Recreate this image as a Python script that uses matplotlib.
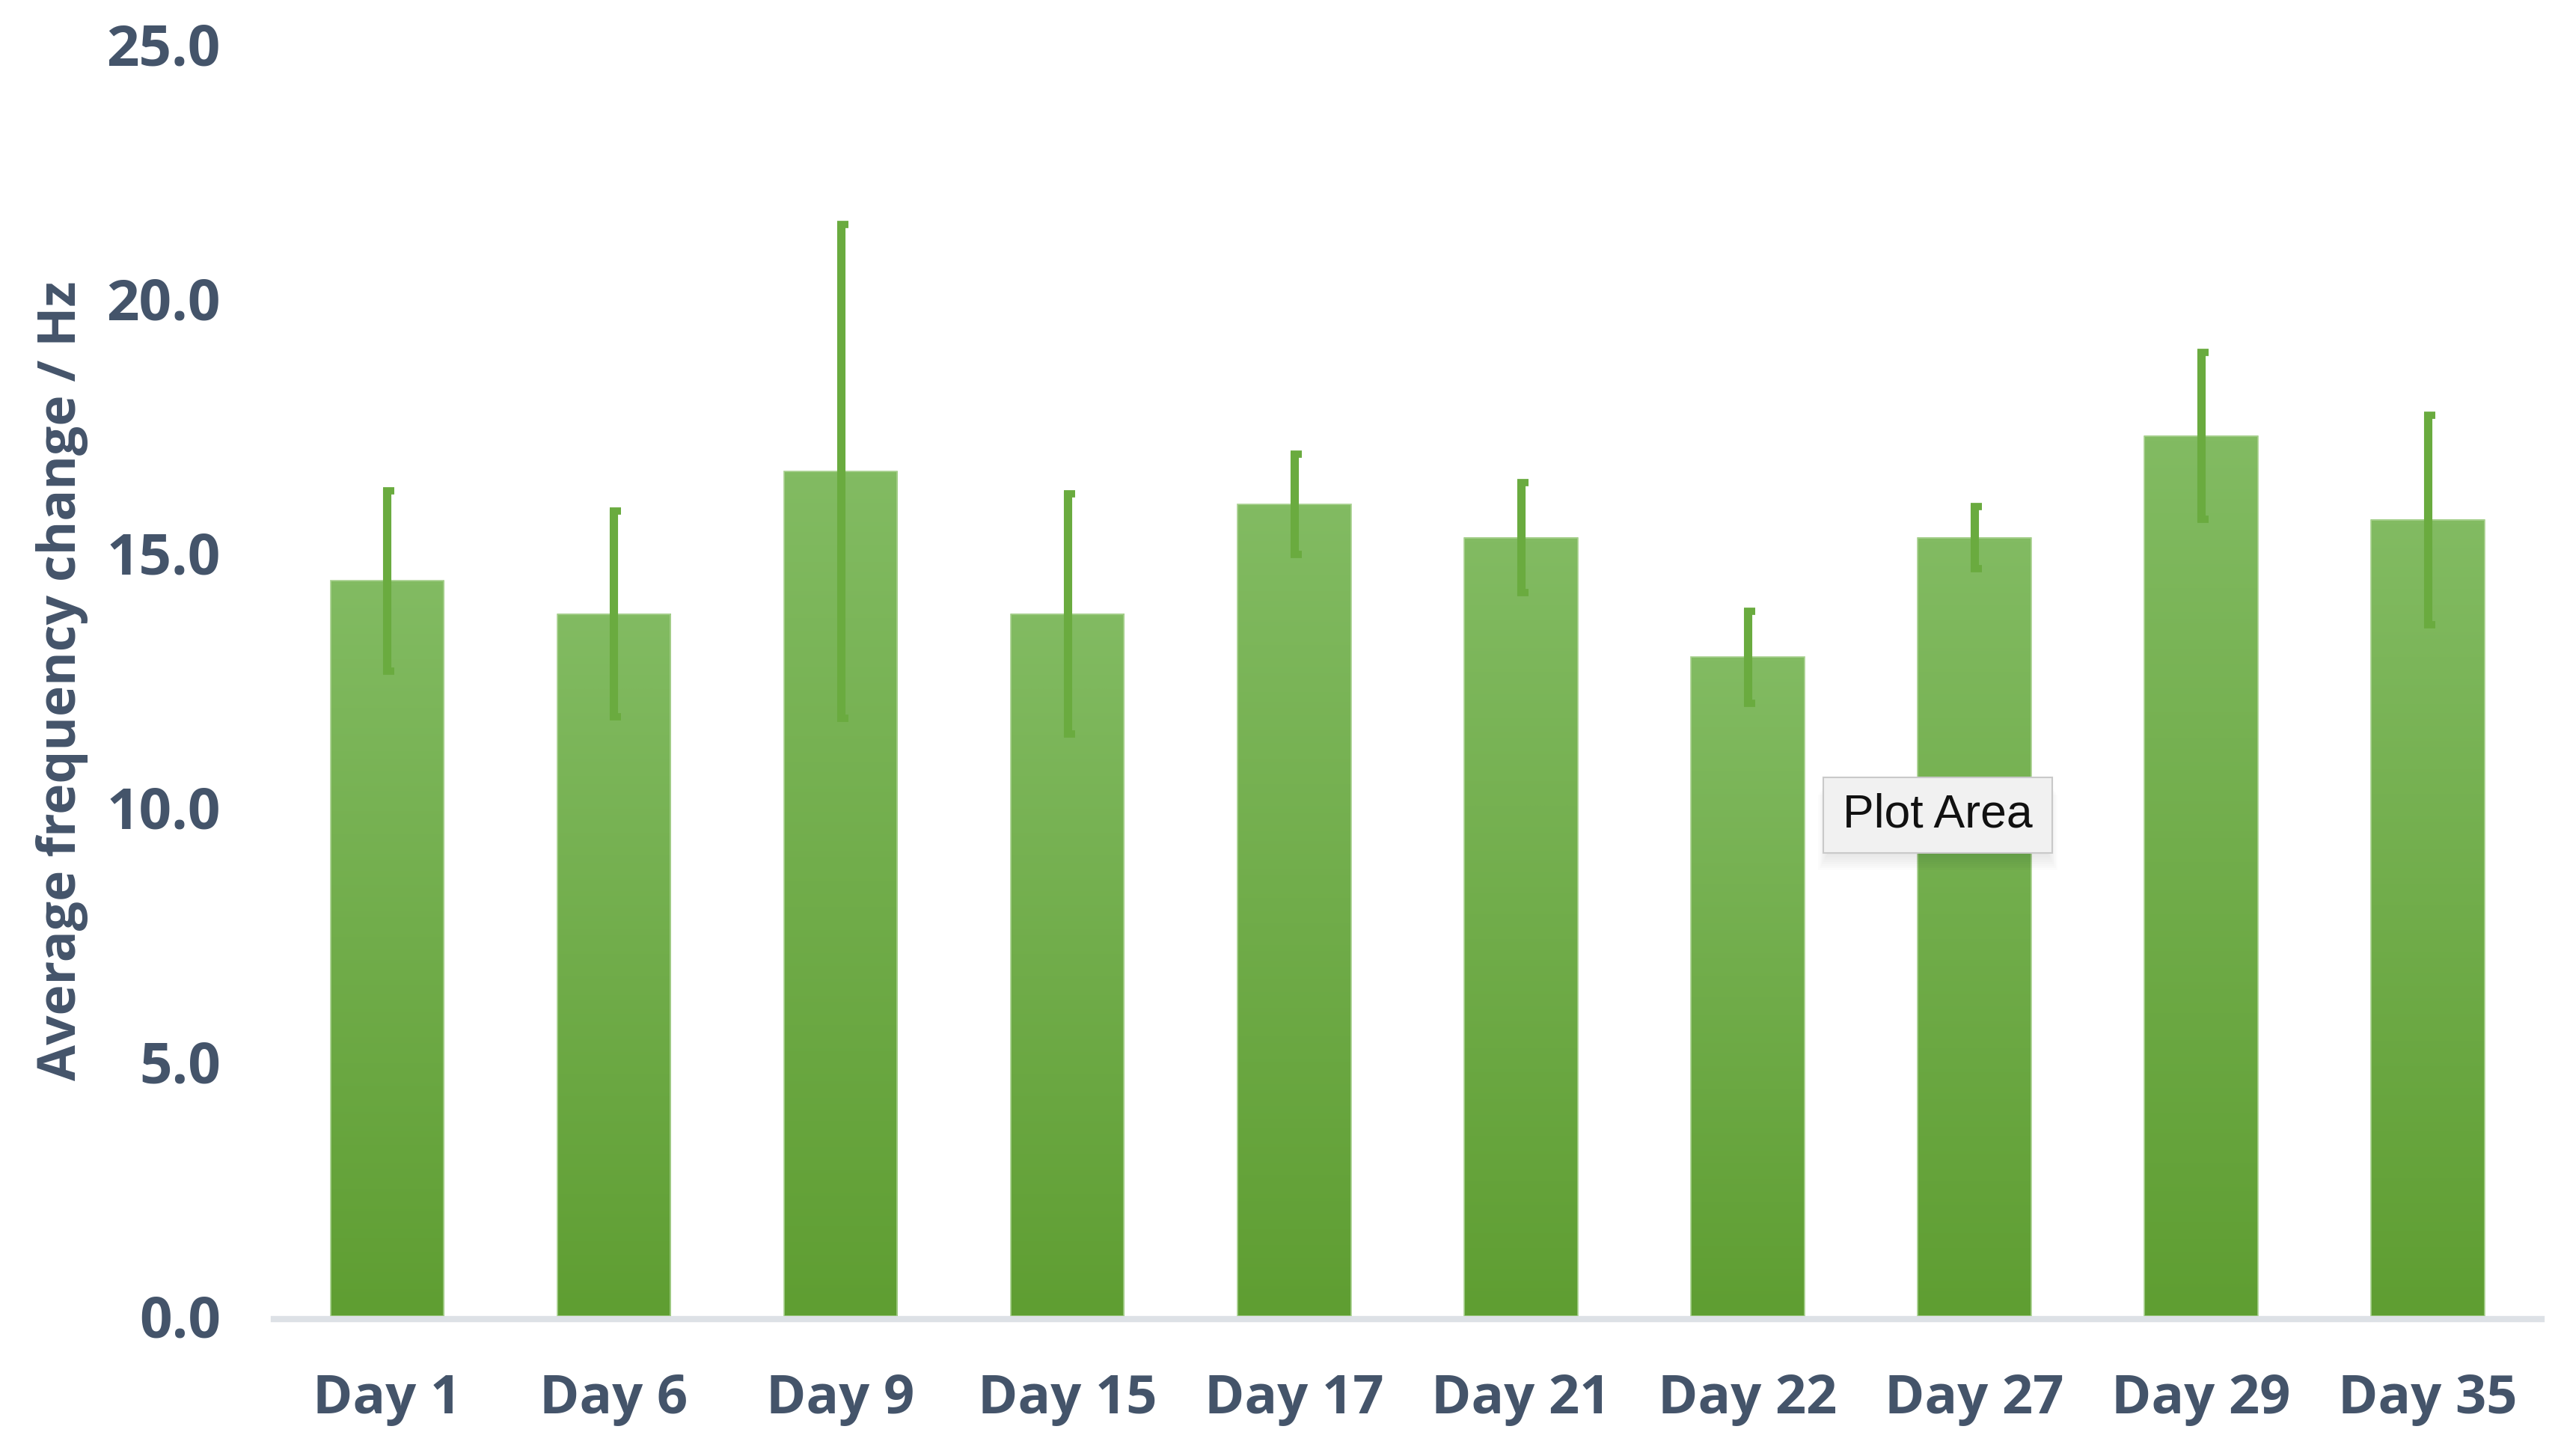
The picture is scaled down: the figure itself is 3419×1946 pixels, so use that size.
import numpy as np
import matplotlib.pyplot as plt
from matplotlib.colors import LinearSegmentedColormap
from matplotlib.patches import Rectangle
from matplotlib.path import Path

# data
days = ['Day 1', 'Day 6', 'Day 9', 'Day 15', 'Day 17', 'Day 21', 'Day 22', 'Day 27', 'Day 29', 'Day 35']
mean_hz = [14.45, 13.8, 16.6, 13.8, 15.95, 15.3, 12.95, 15.3, 17.3, 15.65]
err_hz = [1.82, 2.07, 4.9, 2.4, 1.03, 1.12, 0.95, 0.65, 1.68, 2.1]
yticks = [0, 5, 10, 15, 20, 25]

txt_col = '#44546a'
err_col = '#6aab3f'
green = LinearSegmentedColormap.from_list('g', ['#5f9e32', '#82bb62'])

fig = plt.figure(figsize=(34.19, 19.46), dpi=100)
ax = fig.add_axes([0.1070, 0.0961, 0.8865, 0.8736])

x = np.arange(len(days))
bars = ax.bar(x, mean_hz, width=0.5, color='none', edgecolor='#a9d190', linewidth=1.2, zorder=2)

# gradient fill per bar (light top -> darker bottom)
grad = np.linspace(0, 1, 256).reshape(-1, 1)
for b in bars:
    x0, w, h = b.get_x(), b.get_width(), b.get_height()
    ax.imshow(grad, extent=[x0, x0 + w, 0, h], origin='lower', aspect='auto',
              cmap=green, zorder=1.9, interpolation='bilinear')

# error bars, with the little cap sticking out to the right
ax.errorbar(x, mean_hz, yerr=err_hz, fmt='none', ecolor=err_col, elinewidth=8,
            capsize=0, zorder=3)
up = np.array(mean_hz) + np.array(err_hz)
lo = np.array(mean_hz) - np.array(err_hz)
cap_top = Path([(-0.52, -0.33), (1.0, -0.33)])
cap_bot = Path([(-0.52, 0.33), (1.0, 0.33)])
ax.plot(x, up, ls='none', marker=cap_top, ms=15, mew=7, mec=err_col, zorder=3)
ax.plot(x, lo, ls='none', marker=cap_bot, ms=15, mew=7, mec=err_col, zorder=3)

ax.set_xlim(-0.5, 9.5)
ax.set_ylim(0, 25)
ax.set_xticks(x)
ax.set_xticklabels(days)
ax.set_yticks(yticks)
ax.set_yticklabels(['%.1f' % v for v in yticks])

for s in ['top', 'right', 'left']:
    ax.spines[s].set_visible(False)
ax.spines['bottom'].set_color('#dde1e6')
ax.spines['bottom'].set_linewidth(6)
ax.spines['bottom'].set_position(('outward', 3))
ax.spines['bottom'].set_zorder(1)

ax.tick_params(axis='both', length=0)
ax.tick_params(axis='x', pad=51)
ax.tick_params(axis='y', pad=51)
for lab in ax.get_xticklabels():
    lab.set_fontfamily('Open Sans')
    lab.set_fontweight('bold')
    lab.set_fontsize(52)
    lab.set_color(txt_col)
for lab in ax.get_yticklabels():
    lab.set_fontfamily('Open Sans')
    lab.set_fontweight('bold')
    lab.set_fontsize(55)
    lab.set_color(txt_col)

fig.text(83 / 3419, 1 - 910 / 1946, 'Average frequency change / Hz', rotation=90,
         ha='center', va='center', fontsize=50, fontweight='bold',
         family='Open Sans', color=txt_col)

# "Plot Area" tooltip left on the screenshot
bx, by, bw, bh = 2437 / 3419, 1 - 1140 / 1946, 306 / 3419, 101 / 1946
for k in range(8):
    fig.patches.append(Rectangle((bx - 0.002 + 0.0005 * k, by - 0.012 + 0.0015 * k),
                                 bw + 0.004 - 0.001 * k, bh, transform=fig.transFigure,
                                 fc='black', ec='none', alpha=0.012, zorder=5))
fig.patches.append(Rectangle((bx, by), bw, bh, transform=fig.transFigure,
                             fc='#f1f1f1', ec='#c9c9c9', lw=1.5, zorder=6))
fig.text(bx + bw / 2, by + bh / 2, 'Plot Area', ha='center', va='center',
         fontsize=45, family='Liberation Sans', color='#111111', zorder=7)

fig.savefig('out.png', dpi=100, facecolor='white')
